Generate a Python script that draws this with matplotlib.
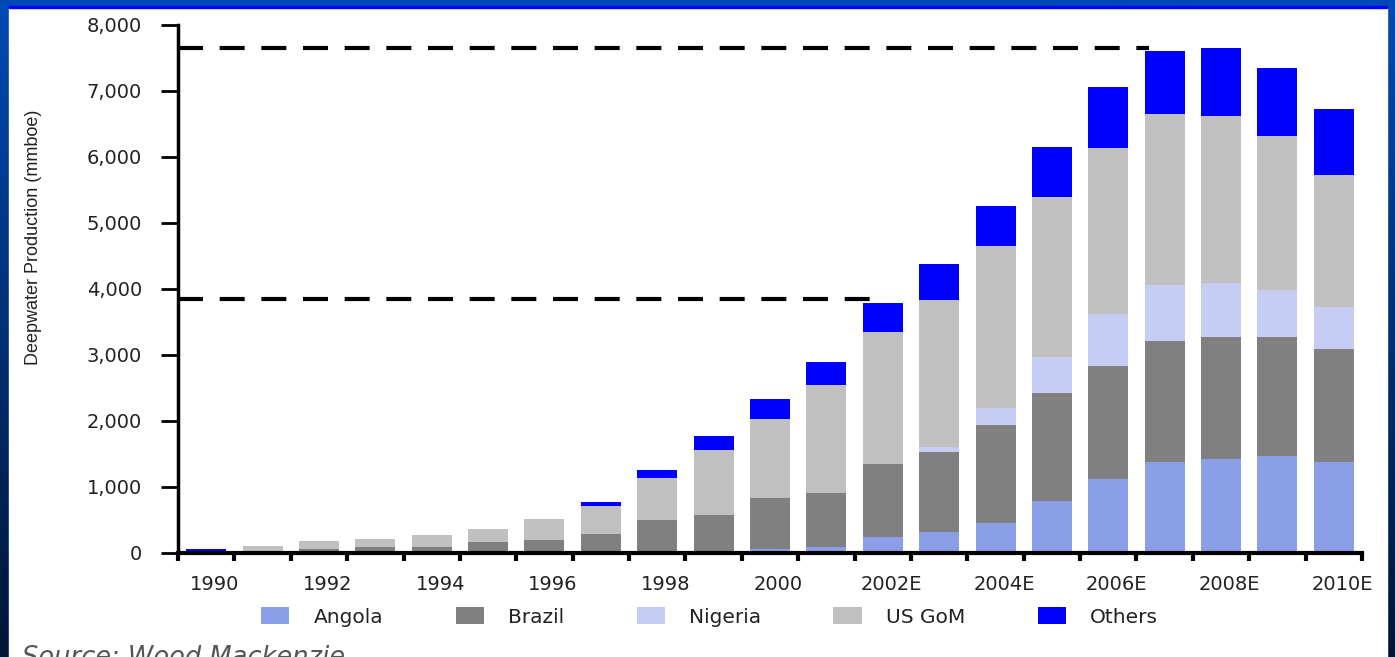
import numpy as np
import matplotlib
matplotlib.use("Agg")
from matplotlib import pyplot as plt
from matplotlib.patches import Rectangle
from matplotlib.ticker import FixedLocator, FuncFormatter

years = ["1990", "1991", "1992", "1993", "1994", "1995", "1996", "1997", "1998", "1999",
         "2000", "2001", "2002E", "2003E", "2004E", "2005E", "2006E", "2007E", "2008E",
         "2009E", "2010E"]
series = ["Angola", "Brazil", "Nigeria", "US GoM", "Others"]

angola = [0, 0, 0, 0, 0, 0, 0, 0, 0, 0, 60, 90, 240, 320, 455, 790, 1115, 1380, 1430, 1465, 1380]
brazil_top = [0, 0, 60, 95, 95, 165, 200, 290, 495, 575, 840, 910, 1345, 1530, 1940, 2420, 2840, 3205, 3280, 3280, 3085]
nigeria_top = [0, 0, 60, 95, 95, 165, 200, 290, 495, 575, 840, 910, 1345, 1600, 2200, 2975, 3620, 4060, 4090, 3990, 3730]
gom_top = [0, 100, 180, 210, 270, 370, 515, 715, 1140, 1560, 2030, 2545, 3350, 3830, 4650, 5400, 6130, 6650, 6615, 6325, 5730]
total = [55, 100, 180, 210, 270, 370, 515, 770, 1260, 1770, 2330, 2890, 3790, 4380, 5260, 6150, 7055, 7610, 7645, 7350, 6720]

ref_levels = [7650, 3850]
ref_end_idx = [16.73, 11.91]

colors = ["#8a9fe8", "#808080", "#c5cdf5", "#c0c0c0", "#0000ff"]

angola = np.array(angola)
brazil = np.array(brazil_top) - angola
nigeria = np.array(nigeria_top) - np.array(brazil_top)
gom = np.array(gom_top) - np.array(nigeria_top)
others = np.array(total) - np.array(gom_top)
layers = [angola, brazil, nigeria, gom, others]

plt.rcParams['font.family'] = ['DejaVu Sans']

fig = plt.figure(figsize=(13.95, 6.57), dpi=100)

# blue slide frame
bg = fig.add_axes([0, 0, 1, 1], zorder=-5)
grad = np.linspace(0, 1, 256).reshape(-1, 1)
top_c = np.array([0x00, 0x4a, 0xb4]) / 255
bot_c = np.array([0x00, 0x16, 0x36]) / 255
img = top_c[None, None, :] * (1 - grad[:, :, None]) + bot_c[None, None, :] * grad[:, :, None]
bg.imshow(img, aspect='auto', extent=[0, 1, 0, 1])
bg.add_patch(Rectangle((9 / 1395, 0), (1387 - 9) / 1395, 1 - 8 / 657, color='white'))
bg.add_patch(Rectangle((9 / 1395, 1 - 8 / 657), (1387 - 9) / 1395, 2 / 657, color='#0000ff'))
bg.set_xlim(0, 1)
bg.set_ylim(0, 1)
bg.axis('off')

ax = fig.add_axes([178 / 1395, 1 - 553 / 657, (1362 - 178) / 1395, (553 - 25) / 657])
ax.patch.set_alpha(0)
x = np.arange(len(years))
bottom = np.zeros(len(years))
for name, vals, c in zip(series, layers, colors):
    ax.bar(x, vals, width=0.71, bottom=bottom, color=c, label=name, zorder=2)
    bottom = bottom + vals

for lvl, xe in zip(ref_levels, ref_end_idx):
    ax.plot([-0.5, xe], [lvl, lvl], color='black', lw=3, dashes=(6, 4), zorder=3,
            solid_capstyle='butt', dash_capstyle='butt')

ax.set_xlim(-0.5, len(years) - 0.5)
ax.set_ylim(0, 8000)
ax.set_yticks(np.arange(0, 8001, 1000))
ax.yaxis.set_major_formatter(FuncFormatter(lambda v, p: f"{int(v):,}"))
ax.tick_params(axis='y', length=12, width=2, labelsize=14, colors='black', labelcolor='#222222', pad=14)

ax.xaxis.set_major_locator(FixedLocator(np.arange(-0.5, len(years), 1)))
ax.xaxis.set_major_formatter(FuncFormatter(lambda v, p: ""))
ax.xaxis.set_minor_locator(FixedLocator(x[::2] + 0.15))
ax.set_xticklabels(years[::2], minor=True)
ax.tick_params(axis='x', which='major', length=6, width=3, direction='out')
ax.tick_params(axis='x', which='minor', length=0, labelsize=14, labelcolor='#222222', pad=16)

for s in ['top', 'right']:
    ax.spines[s].set_visible(False)
ax.spines['left'].set_linewidth(2.5)
ax.spines['bottom'].set_linewidth(3)

fig.text(34 / 1395, 1 - 237 / 657, "Deepwater Production (mmboe)", rotation=90,
         ha='center', va='center', fontsize=13, color='#222222',
         family=['Liberation Sans', 'DejaVu Sans'])

fig.legend(loc='center', bbox_to_anchor=(0.5086, 1 - 617 / 657), ncol=5, frameon=False,
           fontsize=14.5, handlelength=1.4, handleheight=0.85, handletextpad=1.2,
           columnspacing=3.6, labelcolor='#222222')

# source line is cut by the bottom edge in the original slide
fig.text(22 / 1395, 1 - 665 / 657, "Source: Wood Mackenzie", fontsize=18.5, style='italic',
         color='#555555', va='baseline')

fig.savefig("out.png", dpi=100)
